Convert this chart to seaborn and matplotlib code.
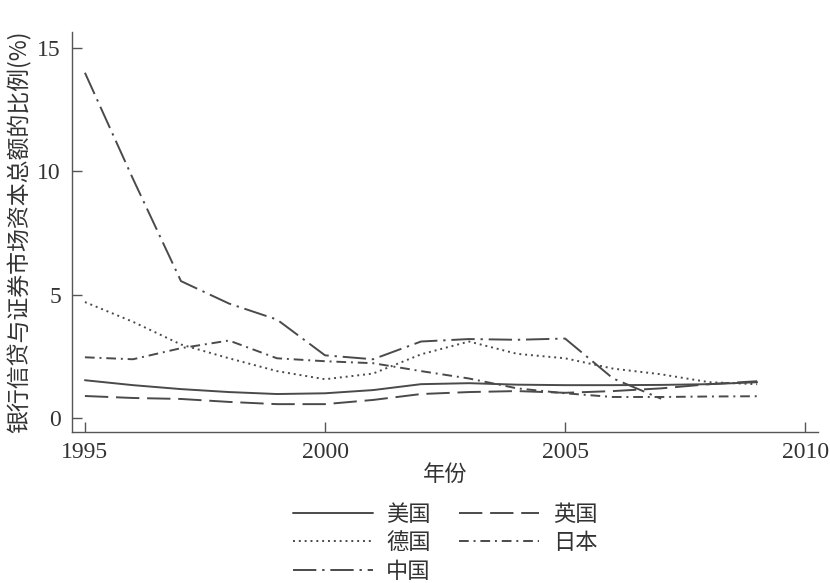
import numpy as np
import pandas as pd
import matplotlib
matplotlib.use("Agg")
import matplotlib.pyplot as plt
import seaborn as sns

years = list(range(1995, 2010))

usa = [1.53, 1.33, 1.17, 1.05, 0.97, 1.00, 1.13, 1.37, 1.41, 1.35, 1.33, 1.33, 1.34, 1.37, 1.45]
uk = [0.89, 0.81, 0.77, 0.65, 0.56, 0.56, 0.73, 0.97, 1.05, 1.09, 1.02, 1.09, 1.20, 1.37, 1.49]
germany = [4.70, 3.90, 2.98, 2.42, 1.90, 1.57, 1.80, 2.58, 3.10, 2.60, 2.42, 2.00, 1.77, 1.45, 1.37]
japan = [2.46, 2.38, 2.83, 3.14, 2.42, 2.30, 2.22, 1.90, 1.60, 1.20, 1.00, 0.85, 0.85, 0.87, 0.88]
china_years = list(range(1995, 2008))
china = [14.0, 9.7, 5.55, 4.64, 3.99, 2.54, 2.38, 3.10, 3.20, 3.17, 3.22, 1.60, 0.78]

countries = ["美国", "英国", "德国", "日本", "中国"]

frames = []
for name, xs, ys in [("美国", years, usa), ("英国", years, uk), ("德国", years, germany),
                     ("日本", years, japan), ("中国", china_years, china)]:
    frames.append(pd.DataFrame({"年份": xs, "比例": ys, "国家": name}))
df = pd.concat(frames, ignore_index=True)

sns.set_style("ticks")
plt.rcParams["font.family"] = ["Liberation Serif", "Noto Sans CJK SC"]

dashes = {
    "美国": "",
    "英国": (12, 4),
    "德国": (1, 2),
    "日本": (5, 2.5, 1, 2.5),
    "中国": (12, 3, 1.2, 3),
}

fig = plt.figure(figsize=(8.3, 5.83), dpi=100)
ax = fig.add_axes([0.0867, 0.259, 0.899, 0.686])

sns.lineplot(data=df, x="年份", y="比例", hue="国家", style="国家",
             hue_order=countries, style_order=countries,
             palette=["#4a4a4a"] * 5, dashes=dashes, linewidth=1.4, ax=ax)

ax.set_xlim(1994.73, 2010.27)
ax.set_ylim(-0.57, 15.65)
ax.set_xticks([1995, 2000, 2005, 2010])
ax.set_yticks([0, 5, 10, 15])
ax.tick_params(direction="in", length=7, width=1, color="#555555",
               labelsize=17, labelcolor="#333333")
ax.tick_params(axis="y", pad=8)
ax.tick_params(axis="x", pad=7)
for side in ["top", "right"]:
    ax.spines[side].set_visible(False)
for side in ["left", "bottom"]:
    ax.spines[side].set_color("#555555")
    ax.spines[side].set_linewidth(1.0)

cjk = ["Noto Sans CJK SC", "DejaVu Sans"]
ax.set_xlabel("年份", fontsize=16, family=cjk, color="#333333", labelpad=0)
ax.set_ylabel("银行信贷与证券市场资本总额的比例(%)", fontsize=16.5, family=cjk,
              color="#333333", labelpad=4)

handles, labels = ax.get_legend_handles_labels()
lookup = dict(zip(labels, handles))
order = ["美国", "德国", "中国", "英国", "日本"]
leg = ax.legend([lookup[k] for k in order], order, ncol=2, frameon=False,
                loc="upper center", bbox_to_anchor=(0.5, -0.155),
                prop={"family": cjk, "size": 16}, handlelength=3.6,
                handletextpad=0.6, columnspacing=1.3, labelspacing=0.24,
                borderaxespad=0.0)
for t in leg.get_texts():
    t.set_color("#333333")

fig.savefig("out.png", dpi=100)
